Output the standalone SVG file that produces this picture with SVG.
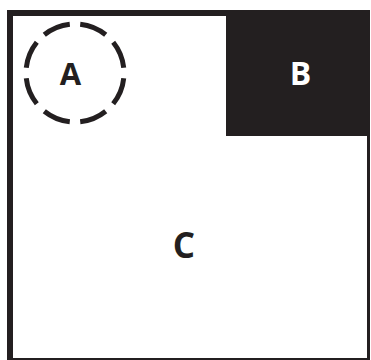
<svg xmlns="http://www.w3.org/2000/svg" width="371" height="360" viewBox="0 0 371 360">
<style>
.lbl{font-family:"Open Sans","Liberation Sans",sans-serif;font-weight:bold;text-anchor:middle}
.dark{fill:#231f20}
</style>
<rect width="371" height="360" fill="#ffffff"/>
<g id="C">
<path class="dark" fill-rule="evenodd" d="M7,10 H370 V360 H7 Z M13,16 V358 H367 V16 Z"/>
<text class="lbl dark" x="184" y="258" font-size="35">C</text>
</g>
<g id="B">
<rect class="dark" x="226" y="11" width="144" height="125"/>
<text class="lbl" x="300.5" y="85" font-size="32" fill="#ffffff">B</text>
</g>
<g id="A">
<circle cx="75" cy="73" r="49" fill="none" stroke="#231f20" stroke-width="5" pathLength="320" stroke-dasharray="29 11" stroke-dashoffset="-5.5"/>
<text class="lbl dark" x="70.5" y="85" font-size="31">A</text>
</g>
<g id="connectors"/>
</svg>
